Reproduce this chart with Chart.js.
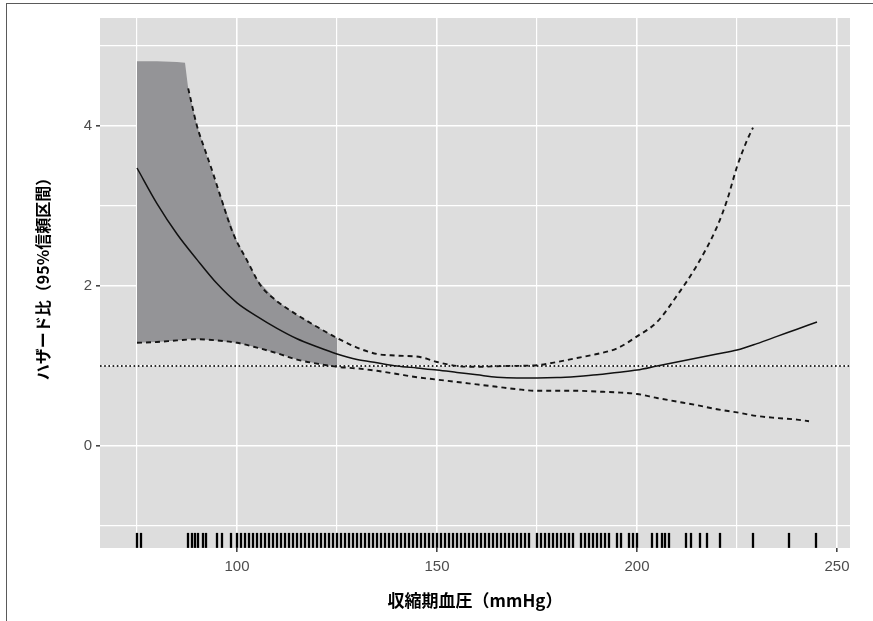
<!DOCTYPE html>
<html><head><meta charset="utf-8">
<script src="https://cdn.jsdelivr.net/npm/chart.js@4"></script>
<style>
html,body{margin:0;padding:0;background:#fff;}
#wrap{position:relative;width:873px;height:621px;overflow:hidden;}
#frame{position:absolute;left:6px;top:3px;width:900px;height:700px;border-left:1.5px solid #5a5a5a;border-top:1.5px solid #5a5a5a;pointer-events:none;}
</style></head><body>
<div id="wrap"><canvas id="c" width="873" height="621"></canvas><div id="frame"></div></div>
<script>
// ---- axis setup ----
const xMin = 65.75, xMax = 253.25;
const yMin = -1.275, yMax = 5.35;
const xGrid = [75, 100, 125, 150, 175, 200, 225, 250];
const xTickLabels = {100: '100', 150: '150', 200: '200', 250: '250'};
const yGrid = [-1, 0, 1, 2, 3, 4, 5];
const yTickLabels = {0: '0', 2: '2', 4: '4'};
const refLine = 1;

// ---- estimated hazard ratio (solid) ----
const hrX = [75, 80, 85, 90, 95, 100, 105, 110, 115, 120, 125, 130, 135, 140, 145, 150, 155, 160, 165, 170, 175, 180, 185, 190, 195, 200, 205, 210, 215, 220, 225, 230, 235, 240, 245];
const hrY = [3.475, 3.03, 2.65, 2.33, 2.03, 1.79, 1.62, 1.47, 1.34, 1.24, 1.15, 1.08, 1.04, 1.0, 0.975, 0.95, 0.92, 0.89, 0.86, 0.85, 0.85, 0.855, 0.87, 0.89, 0.92, 0.95, 1.0, 1.05, 1.1, 1.15, 1.2, 1.28, 1.37, 1.46, 1.55];

// ---- upper 95% CI (dashed) ----
const upX = [87.8, 90, 92, 94, 96, 99, 102.5, 106, 110, 115, 120, 125, 130, 135, 140, 146, 150, 155, 160, 167, 175, 180, 185, 190, 195, 200, 205, 210, 215, 220, 222.5, 225, 227.5, 229];
const upY = [4.47, 4.0, 3.7, 3.41, 3.1, 2.66, 2.32, 2.0, 1.81, 1.64, 1.49, 1.35, 1.23, 1.15, 1.13, 1.11, 1.05, 1.0, 0.99, 1.0, 1.01, 1.05, 1.1, 1.15, 1.22, 1.37, 1.55, 1.88, 2.26, 2.74, 3.07, 3.49, 3.82, 3.98];

// ---- lower 95% CI (dashed) ----
const loX = [75, 80, 85, 90, 95, 100, 105, 110, 115, 120, 125, 130, 135, 140, 145, 150, 155, 160, 165, 170, 175, 180, 185, 190, 195, 200, 205, 210, 215, 220, 225, 230, 235, 240, 243];
const loY = [1.29, 1.3, 1.32, 1.335, 1.32, 1.29, 1.23, 1.16, 1.08, 1.03, 0.99, 0.97, 0.94, 0.9, 0.86, 0.83, 0.8, 0.77, 0.74, 0.71, 0.69, 0.69, 0.69, 0.68, 0.67, 0.65, 0.6, 0.555, 0.51, 0.46, 0.42, 0.375, 0.35, 0.33, 0.31];

// ---- shaded band (75-125) ----
const bandX = [75, 80, 85, 87, 87.8, 90, 95, 100, 105, 110, 115, 120, 125];
const bandUpper = [4.81, 4.81, 4.8, 4.79, 4.47, 4.0, 3.25, 2.56, 2.08, 1.81, 1.64, 1.49, 1.35];
const bandLower = [1.29, 1.3, 1.32, 1.33, 1.335, 1.335, 1.32, 1.29, 1.23, 1.16, 1.08, 1.03, 0.99];

// ---- rug (observed systolic BP) ----
const rugX = [75, 76, 87.75, 88.75, 89.5, 90.25, 91.5, 92.25, 95, 96.25, 98.5,
  100, 101, 102, 103, 104, 105, 106, 107, 108, 109, 110, 111, 112, 113, 114, 115, 116, 117, 118, 119,
  120, 121, 122, 123, 124, 125, 126, 127, 128, 129, 130, 131, 132, 133, 134, 135, 136, 137, 138, 139,
  140, 141, 142, 143, 144, 145, 146, 147, 148, 149, 150, 151, 152, 153, 154, 155, 156, 157, 158, 159,
  160, 161, 162, 163, 164, 165, 166, 167, 168, 169, 170, 171, 172, 173, 175, 176, 177, 178, 179,
  180, 181, 182, 183, 184, 186, 187, 188, 189, 190, 191, 192, 193, 195, 196, 198, 199, 200,
  203.75, 205, 206.25, 207, 208, 212.25, 213.5, 215.75, 217.5, 220.75, 229, 238, 244.75];
const rugY = -1.18;

const pts = (xs, ys) => xs.map((x, i) => ({x: x, y: ys[i]}));

const panelBg = {
  id: 'panelBg',
  beforeDraw(chart) {
    const {ctx, chartArea: a} = chart;
    ctx.save();
    ctx.fillStyle = '#dddddd';
    ctx.fillRect(a.left, a.top, a.right - a.left, a.bottom - a.top);
    ctx.restore();
  }
};

const tickFont = {family: "Arial, 'Liberation Sans', sans-serif", size: 15};

new Chart(document.getElementById('c'), {
  type: 'scatter',
  data: {
    datasets: [
      { label: 'band upper', data: pts(bandX, bandUpper), showLine: true, fill: 1,
        backgroundColor: '#949497', borderWidth: 0, borderColor: 'rgba(0,0,0,0)', pointRadius: 0, order: 5, tension: 0 },
      { label: 'band lower', data: pts(bandX, bandLower), showLine: true, fill: false,
        borderWidth: 0, borderColor: 'rgba(0,0,0,0)', pointRadius: 0, order: 5, tension: 0 },
      { label: 'reference', data: [{x: xMin, y: refLine}, {x: xMax, y: refLine}], showLine: true,
        borderColor: '#2a2a2a', borderWidth: 1.8, borderDash: [1.6, 2.6], pointRadius: 0, order: 2 },
      { label: 'upper CI', data: pts(upX, upY), showLine: true, borderColor: '#151515',
        borderWidth: 1.9, borderDash: [5, 4], pointRadius: 0, order: 1, cubicInterpolationMode: 'monotone' },
      { label: 'lower CI', data: pts(loX, loY), showLine: true, borderColor: '#151515',
        borderWidth: 1.9, borderDash: [5, 4], pointRadius: 0, order: 1, cubicInterpolationMode: 'monotone' },
      { label: 'HR', data: pts(hrX, hrY), showLine: true, borderColor: '#111',
        borderWidth: 1.5, pointRadius: 0, order: 1, cubicInterpolationMode: 'monotone' },
      { label: 'rug', data: rugX.map(x => ({x: x, y: rugY})), showLine: false,
        pointStyle: 'line', rotation: 90, pointRadius: 7.5, pointHoverRadius: 7.5,
        pointBorderColor: '#000', pointBorderWidth: 2.3, borderColor: '#000', order: 0 }
    ]
  },
  options: {
    responsive: false,
    animation: false,
    events: [],
    layout: {padding: {left: 0, top: 18, right: 23, bottom: 0}},
    plugins: {legend: {display: false}, tooltip: {enabled: false}},
    scales: {
      x: {
        type: 'linear', min: xMin, max: xMax,
        afterBuildTicks: s => { s.ticks = xGrid.map(v => ({value: v})); },
        afterFit: s => { s.height = 73; },
        border: {display: false},
        grid: {
          color: '#ffffff',
          lineWidth: c => (xTickLabels[c.tick && c.tick.value] ? 1.6 : 1.2),
          tickColor: c => (xTickLabels[c.tick && c.tick.value] ? '#444' : 'rgba(0,0,0,0)'),
          tickLength: 4, drawTicks: true
        },
        ticks: {
          autoSkip: false, maxRotation: 0, padding: 6, color: '#4d4d4d', font: tickFont,
          callback: v => (xTickLabels[v] || '')
        },
        title: {display: true, text: '収縮期血圧（mmHg）', color: '#000',
          font: {family: "'Noto Sans CJK JP', sans-serif", size: 17, weight: 'bold'},
          padding: {top: 0, bottom: 10}}
      },
      y: {
        type: 'linear', min: yMin, max: yMax,
        afterBuildTicks: s => { s.ticks = yGrid.map(v => ({value: v})); },
        afterFit: s => { s.width = 100; },
        border: {display: false},
        grid: {
          color: '#ffffff',
          lineWidth: c => (yTickLabels[c.tick && c.tick.value] ? 1.6 : 1.2),
          tickColor: c => (yTickLabels[c.tick && c.tick.value] ? '#444' : 'rgba(0,0,0,0)'),
          tickLength: 4, drawTicks: true
        },
        ticks: {
          autoSkip: false, padding: 4, color: '#4d4d4d', font: tickFont,
          callback: v => (yTickLabels[v] || '')
        },
        title: {display: true, text: '\u3000ハザード比（95%信頼区間）', color: '#000',
          font: {family: "'Noto Sans CJK JP', sans-serif", size: 16, weight: 'bold'},
          padding: {top: 33, bottom: 0}}
      }
    }
  },
  plugins: [panelBg]
});
</script>
</body></html>
